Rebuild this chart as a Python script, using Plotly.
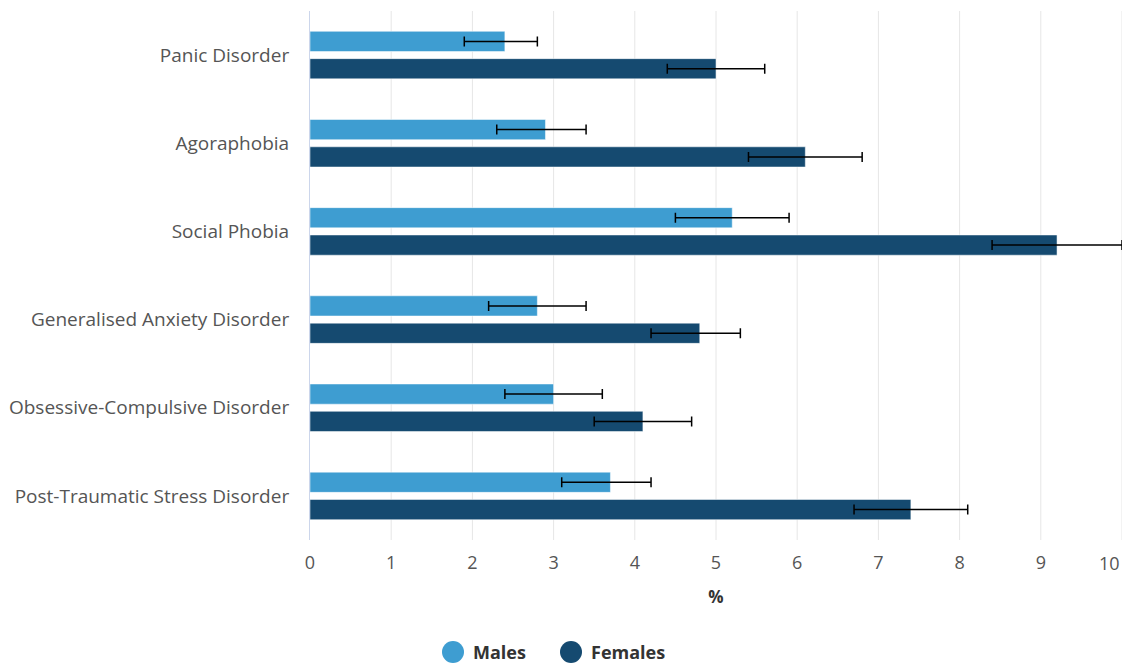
import plotly.graph_objects as go

# Prevalence (%) by disorder and sex, with 95% confidence intervals
disorders = [
    "Panic Disorder",
    "Agoraphobia",
    "Social Phobia",
    "Generalised Anxiety Disorder",
    "Obsessive-Compulsive Disorder",
    "Post-Traumatic Stress Disorder",
]
males = [2.4, 2.9, 5.2, 2.8, 3.0, 3.7]
males_low = [1.9, 2.3, 4.5, 2.2, 2.4, 3.1]
males_high = [2.8, 3.4, 5.9, 3.4, 3.6, 4.2]
females = [5.0, 6.1, 9.2, 4.8, 4.1, 7.4]
females_low = [4.4, 5.4, 8.4, 4.2, 3.5, 6.7]
females_high = [5.6, 6.8, 10.0, 5.3, 4.7, 8.1]
x_ticks = list(range(0, 11))
series_names = ["Males", "Females"]

MALE_COLOR = "#3e9dd1"
FEMALE_COLOR = "#154a70"
FONT = "Open Sans"
TICK_COLOR = "#555555"

W, H = 1122, 665
M_L, M_R, M_T, M_B = 310, 0, 11, 125
PLOT_W = W - M_L - M_R
PLOT_H = H - M_T - M_B


def px_to_paper(px, py):
    """Convert a pixel position on the page to paper coordinates."""
    return (px - M_L) / PLOT_W, (H - M_B - py) / PLOT_H


def err(vals, lo, hi):
    return dict(
        type="data",
        symmetric=False,
        array=[h - v for v, h in zip(vals, hi)],
        arrayminus=[v - l for v, l in zip(vals, lo)],
        color="#000000",
        thickness=1.5,
        width=5,
    )


fig = go.Figure()
for name, vals, lo, hi, color in [
    (series_names[0], males, males_low, males_high, MALE_COLOR),
    (series_names[1], females, females_low, females_high, FEMALE_COLOR),
]:
    fig.add_trace(go.Bar(
        y=disorders, x=vals, orientation="h", name=name,
        marker=dict(color=color, line=dict(color="rgba(255,255,255,0.5)", width=1)),
        error_x=err(vals, lo, hi),
        showlegend=False,
    ))

# The last tick label sits flush with the right edge of the figure
shown_ticks = x_ticks[:-1]
fig.add_annotation(
    x=x_ticks[-1], y=0, xref="x", yref="paper",
    text=str(x_ticks[-1]), showarrow=False,
    xanchor="right", yanchor="top", yshift=-9,
    font=dict(family=FONT, size=18, color=TICK_COLOR),
)

# Legend with large round swatches
legend_items = [(series_names[0], MALE_COLOR, 453), (series_names[1], FEMALE_COLOR, 571)]
legend_y = 652
radius = 11
for name, color, cx in legend_items:
    x0, y0 = px_to_paper(cx - radius, legend_y + radius)
    x1, y1 = px_to_paper(cx + radius, legend_y - radius)
    fig.add_shape(
        type="circle", xref="paper", yref="paper",
        x0=x0, x1=x1, y0=y0, y1=y1,
        fillcolor=color, line=dict(width=0),
    )
    tx, ty = px_to_paper(cx + radius + 7, legend_y)
    fig.add_annotation(
        x=tx, y=ty, xref="paper", yref="paper",
        text=f"<b>{name}</b>", showarrow=False,
        xanchor="left", yanchor="middle",
        font=dict(family=FONT, size=18, color="#333333"),
    )

fig.update_layout(
    width=W, height=H,
    margin=dict(l=M_L, r=M_R, t=M_T, b=M_B),
    paper_bgcolor="white", plot_bgcolor="white",
    barmode="group", bargap=0.38, bargroupgap=0.26,
    font=dict(family=FONT, color=TICK_COLOR, size=16),
    showlegend=False,
    xaxis=dict(
        range=[0, 10], tickvals=shown_ticks, ticktext=[str(t) for t in shown_ticks],
        showgrid=False,
        zeroline=False, showline=False,
        tickfont=dict(size=18, color=TICK_COLOR),
        ticks="", ticklabelstandoff=10,
        title=dict(text="<b>%</b>", font=dict(size=17, color="#333333"), standoff=18),
        fixedrange=True,
    ),
    yaxis=dict(
        autorange="reversed",
        showgrid=False, zeroline=False,
        showline=True, linecolor="#ccd6eb", linewidth=1,
        tickfont=dict(size=19, color=TICK_COLOR),
        ticks="", ticklabelstandoff=16,
        fixedrange=True,
    ),
)

# Vertical gridlines, including the one at the right edge
for t in x_ticks[1:]:
    fig.add_shape(
        type="line", xref="x", yref="paper", x0=t, x1=t, y0=0, y1=1,
        line=dict(color="#e6e6e6", width=1), layer="below",
    )

fig.write_html("out.html")
